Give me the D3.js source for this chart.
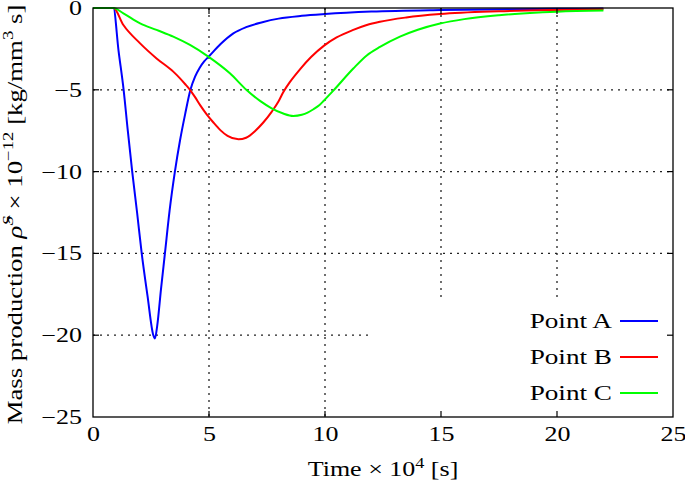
<!DOCTYPE html>
<html>
<head>
<meta charset="utf-8">
<script src="https://cdn.jsdelivr.net/npm/d3@7"></script>
<style>
  body { margin: 0; background: #fff; }
  text { font-family: "Liberation Serif", "DejaVu Serif", serif; fill: #000; }
</style>
</head>
<body>
<div id="chart-area"></div>
<script>
// time (x 10^4 s) and mass production (x 10^-12 kg/mm^3 s)
const timeA = [0, 0.88, 1.1, 1.32, 1.5, 1.69, 1.9, 2.1, 2.35, 2.6, 2.67, 2.77, 2.93, 3.1, 3.3, 3.53, 3.75, 3.97, 4.2, 4.4, 4.6, 4.8, 5.0, 5.5, 6.05, 6.6, 7.3, 8.0, 9.0, 10, 12, 15, 18, 20, 22];
const pointA = [0, 0, -2.6, -5.0, -7.5, -10.0, -12.5, -15.0, -17.6, -20.0, -20.2, -19.4, -17.2, -15.0, -12.4, -10.0, -8.1, -6.5, -5.0, -4.2, -3.65, -3.25, -2.95, -2.2, -1.55, -1.17, -0.87, -0.65, -0.48, -0.37, -0.22, -0.12, -0.07, -0.05, -0.03];

const timeB = [0, 0.88, 1.31, 2.03, 2.74, 3.46, 3.75, 4.0, 4.18, 4.4, 4.61, 4.9, 5.19, 5.5, 5.8, 6.27, 6.6, 7.0, 7.34, 7.7, 8.0, 8.2, 8.5, 8.92, 9.4, 9.96, 10.5, 11.22, 11.8, 12.37, 13.5, 14.96, 17.5, 19.98, 22];
const pointB = [0, 0, -1.04, -2.16, -3.08, -3.89, -4.3, -4.7, -5.0, -5.45, -5.92, -6.5, -7.0, -7.48, -7.82, -8.03, -7.93, -7.5, -7.0, -6.35, -5.7, -5.15, -4.5, -3.75, -3.0, -2.3, -1.8, -1.34, -1.04, -0.84, -0.58, -0.37, -0.2, -0.12, -0.08];

const timeC = [0, 0.88, 1.31, 2.03, 2.74, 3.46, 4.18, 4.97, 5.9, 6.62, 7.2, 7.7, 8.2, 8.63, 9.0, 9.25, 9.5, 9.75, 9.96, 10.36, 11.22, 11.8, 12.37, 13.23, 14.0, 14.96, 16, 17.5, 20, 22];
const pointC = [0, 0, -0.33, -0.94, -1.34, -1.75, -2.26, -2.97, -3.99, -5.01, -5.68, -6.13, -6.45, -6.6, -6.53, -6.4, -6.19, -5.95, -5.65, -5.05, -3.7, -2.9, -2.38, -1.75, -1.33, -0.95, -0.68, -0.44, -0.23, -0.16];

const seriesNames = ['Point A', 'Point B', 'Point C'];
const seriesColors = ['#0000ff', '#ff0000', '#00ff00'];

const xTicks = [0, 5, 10, 15, 20, 25];
const yTicks = [0, -5, -10, -15, -20, -25];

const widthSvg = 685;
const heightSvg = 483;
const margin = { top: 8, right: 12, bottom: 66, left: 93 };
const widthChart = widthSvg - margin.left - margin.right;
const heightChart = heightSvg - margin.top - margin.bottom;
const fontSize = 20;
const stretch = 'scale(1.3, 1)';

const series = [
  timeA.map((t, i) => ({ t, v: pointA[i] })),
  timeB.map((t, i) => ({ t, v: pointB[i] })),
  timeC.map((t, i) => ({ t, v: pointC[i] }))
];

const scaleX = d3.scaleLinear().domain([0, 25]).range([0, widthChart]);
const scaleY = d3.scaleLinear().domain([-25, 0]).range([heightChart, 0]);

const svg = d3.select('#chart-area')
  .append('svg')
    .attr('width', widthSvg)
    .attr('height', heightSvg);

const chart = svg.append('g')
  .attr('transform', `translate(${margin.left}, ${margin.top})`);

// grid
const innerX = xTicks.slice(1, -1);
const innerY = yTicks.slice(1, -1);

chart.selectAll('.grid-x')
  .data(innerX)
  .enter().append('line')
    .attr('x1', d => scaleX(d)).attr('x2', d => scaleX(d))
    .attr('y1', 0).attr('y2', heightChart)
    .attr('stroke', '#222')
    .attr('stroke-width', 1.3)
    .attr('stroke-dasharray', '2,5');

chart.selectAll('.grid-y')
  .data(innerY)
  .enter().append('line')
    .attr('x1', 0).attr('x2', widthChart)
    .attr('y1', d => scaleY(d)).attr('y2', d => scaleY(d))
    .attr('stroke', '#222')
    .attr('stroke-width', 1.3)
    .attr('stroke-dasharray', '2,5');

// opaque key box
const keyLeft = 279, keyTop = 292;
chart.append('rect')
  .attr('x', keyLeft)
  .attr('y', keyTop)
  .attr('width', widthChart - keyLeft)
  .attr('height', heightChart - keyTop)
  .attr('fill', '#fff');

// curves
const line = d3.line()
  .x(d => scaleX(d.t))
  .y(d => scaleY(d.v))
  .curve(d3.curveMonotoneX);

chart.selectAll('.curve')
  .data(series)
  .enter().append('path')
    .attr('d', line)
    .attr('fill', 'none')
    .attr('stroke', (d, i) => seriesColors[i])
    .attr('stroke-width', 2);

// inner ticks on all four sides
const tickLen = 6;
const tickStyle = sel => sel.attr('stroke', '#000').attr('stroke-width', 1.2);

chart.selectAll('.tb').data(innerX).enter().append('line')
  .attr('x1', d => scaleX(d)).attr('x2', d => scaleX(d))
  .attr('y1', heightChart).attr('y2', heightChart - tickLen).call(tickStyle);
chart.selectAll('.tt').data(innerX).enter().append('line')
  .attr('x1', d => scaleX(d)).attr('x2', d => scaleX(d))
  .attr('y1', 0).attr('y2', tickLen).call(tickStyle);
chart.selectAll('.tl').data(innerY).enter().append('line')
  .attr('y1', d => scaleY(d)).attr('y2', d => scaleY(d))
  .attr('x1', 0).attr('x2', tickLen).call(tickStyle);
chart.selectAll('.tr').data(innerY).enter().append('line')
  .attr('y1', d => scaleY(d)).attr('y2', d => scaleY(d))
  .attr('x1', widthChart).attr('x2', widthChart - tickLen).call(tickStyle);

// frame
chart.append('rect')
  .attr('width', widthChart)
  .attr('height', heightChart)
  .attr('fill', 'none')
  .attr('stroke', '#000')
  .attr('stroke-width', 1.3);

// tick labels
const axisX = d3.axisBottom(scaleX)
  .tickValues(xTicks)
  .tickFormat(d3.format('d'))
  .tickSize(0)
  .tickPadding(10);

const axisY = d3.axisLeft(scaleY)
  .tickValues(yTicks)
  .tickFormat(d3.format('d'))
  .tickSize(0)
  .tickPadding(8.5);

const gX = chart.append('g')
  .attr('transform', `translate(0, ${heightChart})`)
  .call(axisX);
const gY = chart.append('g').call(axisY);

[gX, gY].forEach(g => {
  g.select('.domain').remove();
  g.selectAll('text')
    .attr('font-family', '"Liberation Serif", serif')
    .attr('font-size', fontSize)
    .attr('transform', stretch);
});

// axis titles
const xTitle = svg.append('g')
  .attr('transform', `translate(${margin.left + widthChart / 2}, 476) ${stretch}`)
  .append('text')
    .attr('text-anchor', 'middle')
    .attr('font-size', fontSize);
xTitle.append('tspan').text('Time \u00d7 10');
xTitle.append('tspan').attr('dy', -8).attr('font-size', 14).text('4');
xTitle.append('tspan').attr('dy', 8).text(' [s]');

const yTitle = svg.append('g')
  .attr('transform', `translate(22, ${margin.top + heightChart / 2 + 2}) rotate(-90) scale(1.34, 1)`)
  .append('text')
    .attr('text-anchor', 'middle')
    .attr('font-size', fontSize);
yTitle.append('tspan').text('Mass production ');
yTitle.append('tspan').attr('font-style', 'italic').text('\u03c1\u0302');
yTitle.append('tspan').attr('dy', -9).attr('font-size', 14).attr('font-style', 'italic').text('S');
yTitle.append('tspan').attr('dy', 9).text(' \u00d7 10');
yTitle.append('tspan').attr('dy', -9).attr('font-size', 14).text('\u221212');
yTitle.append('tspan').attr('dy', 9).text(' [kg/mm');
yTitle.append('tspan').attr('dy', -9).attr('font-size', 14).text('3');
yTitle.append('tspan').attr('dy', 9).text(' s]');

// legend
const legend = chart.selectAll('.legend')
  .data(seriesNames)
  .enter().append('g')
    .attr('transform', (d, i) => `translate(0, ${313 + i * 36})`);

legend.append('g')
  .attr('transform', `translate(519, 0) scale(1.36, 1)`)
  .append('text')
    .attr('dy', '0.35em')
    .attr('text-anchor', 'end')
    .attr('font-size', fontSize)
    .text(d => d);

legend.append('line')
  .attr('x1', 527).attr('x2', 565)
  .attr('y1', 0).attr('y2', 0)
  .attr('stroke', (d, i) => seriesColors[i])
  .attr('stroke-width', 2);
</script>
</body>
</html>
